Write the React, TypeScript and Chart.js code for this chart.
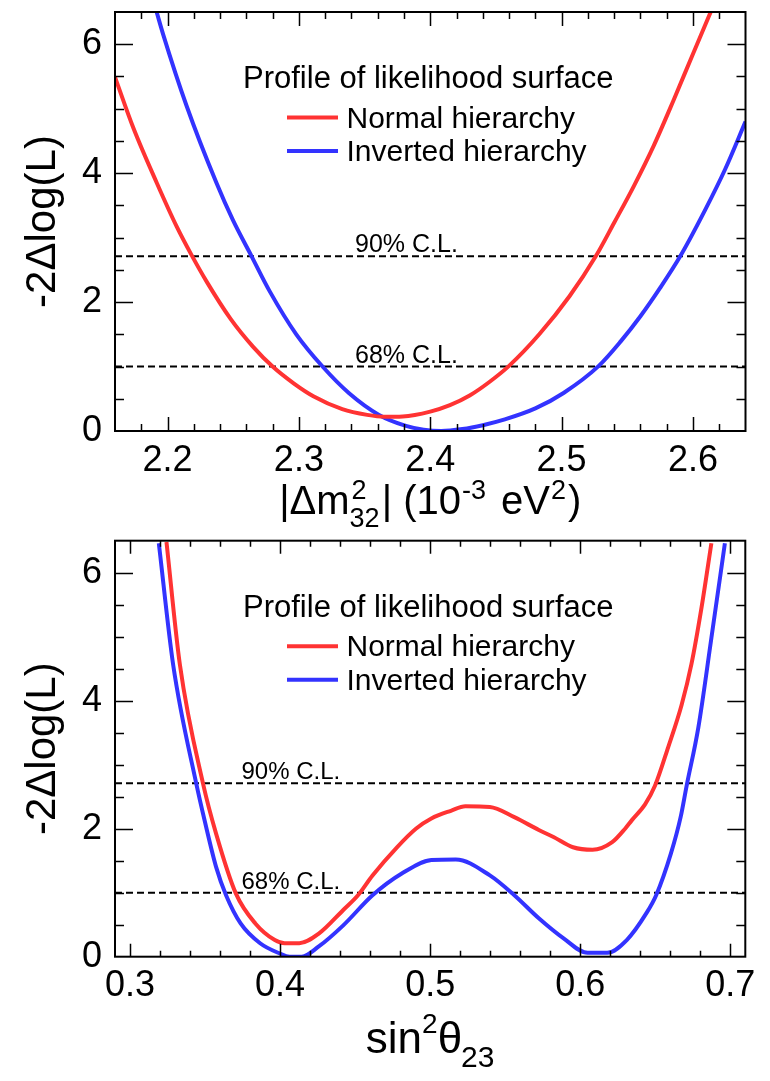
import React, { useEffect, useRef } from "react";
import { Chart, registerables } from "chart.js";

Chart.register(...registerables);

const RED = "#ff3333";
const BLUE = "#3333ff";
const FONT = "'Liberation Sans', Arial, Helvetica, sans-serif";

// ---------- top panel: |dm^2_32| ----------
const dm2NormalX = [2.16, 2.174, 2.192, 2.207, 2.218, 2.23, 2.248, 2.265, 2.28, 2.296, 2.311, 2.333, 2.352, 2.365, 2.379, 2.4, 2.415, 2.43, 2.445, 2.46, 2.483, 2.506, 2.526, 2.54, 2.555, 2.57, 2.585, 2.6, 2.6135];
const dm2NormalY = [5.49, 4.7, 3.84, 3.17, 2.74, 2.31, 1.74, 1.31, 1.0, 0.74, 0.54, 0.34, 0.25, 0.22, 0.225, 0.3, 0.4, 0.55, 0.76, 1.01, 1.5, 2.09, 2.71, 3.23, 3.8, 4.42, 5.12, 5.85, 6.5];
const dm2InvertedX = [2.1917, 2.1967, 2.2144, 2.2372, 2.2498, 2.264, 2.2777, 2.298, 2.318, 2.338, 2.361, 2.3815, 2.395, 2.4084, 2.4245, 2.44, 2.4568, 2.48, 2.5015, 2.5283, 2.545, 2.56, 2.575, 2.5903, 2.6093, 2.6245, 2.64];
const dm2InvertedY = [6.5, 6.15, 5.05, 3.85, 3.27, 2.71, 2.17, 1.5, 1.0, 0.59, 0.25, 0.08, 0.02, 0.0, 0.03, 0.09, 0.18, 0.35, 0.59, 1.01, 1.39, 1.78, 2.22, 2.71, 3.43, 4.06, 4.8];
const dm2Ticks = [2.2, 2.3, 2.4, 2.5, 2.6];

// ---------- bottom panel: sin^2 theta_23 ----------
const th23NormalX = [0.3243, 0.3332, 0.3487, 0.3574, 0.3705, 0.3835, 0.3965, 0.403, 0.4128, 0.4258, 0.4421, 0.4519, 0.4616, 0.4779, 0.4905, 0.5008, 0.5138, 0.5235, 0.5398, 0.5561, 0.5724, 0.5822, 0.5952, 0.6082, 0.6213, 0.6299, 0.6343, 0.6432, 0.6498, 0.6587, 0.6675, 0.6741, 0.6808, 0.6874];
const th23NormalY = [6.48, 4.57, 2.7, 1.92, 0.99, 0.52, 0.26, 0.21, 0.21, 0.36, 0.73, 0.96, 1.27, 1.71, 2.0, 2.16, 2.28, 2.35, 2.34, 2.18, 1.98, 1.87, 1.71, 1.67, 1.79, 2.0, 2.13, 2.38, 2.67, 3.28, 3.93, 4.57, 5.45, 6.46];
const th23InvertedX = [0.3192, 0.3287, 0.3442, 0.35, 0.3574, 0.364, 0.3737, 0.3867, 0.3998, 0.4063, 0.4144, 0.4258, 0.4421, 0.4616, 0.4811, 0.5008, 0.5171, 0.5398, 0.5561, 0.5724, 0.5887, 0.6049, 0.618, 0.631, 0.6441, 0.6506, 0.6604, 0.6669, 0.6709, 0.6787, 0.6874, 0.6964];
const th23InvertedY = [6.46, 4.57, 2.7, 2.1, 1.4, 0.96, 0.52, 0.21, 0.05, 0.0, 0.0, 0.16, 0.49, 0.96, 1.3, 1.51, 1.52, 1.27, 0.96, 0.6, 0.29, 0.06, 0.06, 0.26, 0.68, 0.96, 1.61, 2.18, 2.67, 3.58, 4.98, 6.46];
const th23Ticks = [0.3, 0.4, 0.5, 0.6, 0.7];

// ---------- shared ----------
const yTicks = [0, 2, 4, 6];
const clLevels = [2.71, 1.0];
const clLabels = ["90% C.L.", "68% C.L."];
const legendTitle = "Profile of likelihood surface";
const seriesNames = ["Normal hierarchy", "Inverted hierarchy"];
const yTitle = "-2\u0394log(L)";

type Piece = { t: string; size: number; dy?: number; dx?: number; stack?: boolean };

const dm2Title: Piece[] = [
  { t: "|\u0394m", size: 40 },
  { t: "2", size: 27, dy: -15, dx: 2, stack: true },
  { t: "32", size: 27, dy: 13, dx: 0 },
  { t: "| (10", size: 40, dx: 2 },
  { t: "-3", size: 27, dy: -15, dx: 1 },
  { t: " eV", size: 40, dx: 4 },
  { t: "2", size: 27, dy: -15, dx: 1 },
  { t: ")", size: 40, dx: 2 },
];

const th23Title: Piece[] = [
  { t: "sin", size: 44 },
  { t: "2", size: 28, dy: -20, dx: 0 },
  { t: "\u03b8", size: 44, dx: 0 },
  { t: "23", size: 30, dy: 14, dx: -1 },
];

const toPts = (xs: number[], ys: number[]) => xs.map((x, i) => ({ x, y: ys[i] }));

function drawPieces(ctx: CanvasRenderingContext2D, pieces: Piece[], cx: number, baseY: number) {
  let total = 0;
  let pending = 0;
  const widths: number[] = [];
  pieces.forEach((p) => {
    ctx.font = `${p.size}px ${FONT}`;
    widths.push(ctx.measureText(p.t).width);
  });
  pieces.forEach((p, i) => {
    const w = widths[i];
    if (p.stack) {
      pending = Math.max(pending, w + (p.dx || 0));
    } else {
      total += (p.dx || 0) + Math.max(w, pending - (p.dx || 0));
      pending = 0;
    }
  });
  let x = cx - total / 2;
  pending = 0;
  ctx.textAlign = "left";
  ctx.textBaseline = "alphabetic";
  pieces.forEach((p, i) => {
    const w = widths[i];
    ctx.font = `${p.size}px ${FONT}`;
    ctx.fillText(p.t, x + (p.dx || 0), baseY + (p.dy || 0));
    if (p.stack) {
      pending = Math.max(pending, w + (p.dx || 0));
    } else {
      x += (p.dx || 0) + Math.max(w, pending - (p.dx || 0));
      pending = 0;
    }
  });
}

type PanelOpts = {
  xMinor: number;
  xMajor: number;
  xMajorLen: number;
  xMinorLen: number;
  clLabelDx: number;
  clFont: number;
  titlePieces: Piece[];
  titleDy: number;
};

const rootDecor = {
  id: "rootDecor",
  afterDatasetsDraw(chart: any, _args: any, opts: PanelOpts) {
    const { ctx, chartArea } = chart;
    const { left, right, top, bottom } = chartArea;
    const xs = chart.scales.x;
    const ys = chart.scales.y;
    ctx.save();
    ctx.strokeStyle = "#000";
    ctx.fillStyle = "#000";
    ctx.lineWidth = 1.5;
    const xn0 = Math.ceil(xs.min / opts.xMinor - 1e-6);
    const xn1 = Math.floor(xs.max / opts.xMinor + 1e-6);
    ctx.beginPath();
    for (let n = xn0; n <= xn1; n++) {
      const v = n * opts.xMinor;
      const r = v / opts.xMajor;
      const major = Math.abs(r - Math.round(r)) < 1e-6;
      const len = major ? opts.xMajorLen : opts.xMinorLen;
      const px = Math.round(xs.getPixelForValue(v)) + 0.5;
      if (px <= left + 1 || px >= right - 1) continue;
      ctx.moveTo(px, bottom);
      ctx.lineTo(px, bottom - len);
      ctx.moveTo(px, top);
      ctx.lineTo(px, top + len);
    }
    const yn0 = Math.ceil(ys.min / 0.5 - 1e-6);
    const yn1 = Math.floor(ys.max / 0.5 + 1e-6);
    for (let n = yn0; n <= yn1; n++) {
      const v = n * 0.5;
      const major = n % 4 === 0;
      const len = major ? 18 : 9;
      const py = Math.round(ys.getPixelForValue(v)) + 0.5;
      if (py <= top + 1 || py >= bottom - 1) continue;
      ctx.moveTo(left, py);
      ctx.lineTo(left + len, py);
      ctx.moveTo(right, py);
      ctx.lineTo(right - len, py);
    }
    ctx.stroke();
    ctx.lineWidth = 2;
    ctx.strokeRect(left, top, right - left, bottom - top);

    ctx.font = `${opts.clFont}px ${FONT}`;
    ctx.textAlign = "left";
    ctx.textBaseline = "alphabetic";
    clLevels.forEach((lv, i) => {
      const py = ys.getPixelForValue(lv);
      ctx.fillText(clLabels[i], left + opts.clLabelDx, py - 4);
    });

    ctx.font = `31px ${FONT}`;
    ctx.fillText(legendTitle, left + 128, top + 76);
    ctx.font = `30px ${FONT}`;
    const cols = [RED, BLUE];
    seriesNames.forEach((name, i) => {
      const ly = top + 105.5 + i * 33.5;
      ctx.strokeStyle = cols[i];
      ctx.lineWidth = 4;
      ctx.beginPath();
      ctx.moveTo(left + 172, ly);
      ctx.lineTo(left + 223, ly);
      ctx.stroke();
      ctx.fillStyle = "#000";
      ctx.fillText(name, left + 231.5, top + 115.5 + i * 33.5);
    });

    drawPieces(ctx, opts.titlePieces, (left + right) / 2, bottom + opts.titleDy);

    ctx.save();
    ctx.translate(43, (top + bottom) / 2);
    ctx.rotate(-Math.PI / 2);
    ctx.font = `42px ${FONT}`;
    ctx.textAlign = "center";
    ctx.textBaseline = "middle";
    ctx.fillText(yTitle, 0, 0);
    ctx.restore();

    ctx.restore();
  },
};

function makeConfig(
  normal: { x: number; y: number }[],
  inverted: { x: number; y: number }[],
  xMin: number,
  xMax: number,
  xTicks: number[],
  padTop: number,
  xAxisHeight: number,
  padRight: number,
  opts: PanelOpts
): any {
  const clSets = clLevels.map((lv) => ({
    data: [
      { x: xMin, y: lv },
      { x: xMax, y: lv },
    ],
    borderColor: "#000",
    borderWidth: 2,
    borderDash: [7, 4],
    pointRadius: 0,
    fill: false,
    clip: 0,
  }));
  const curve = (label: string, data: any, color: string) => ({
    label,
    data,
    borderColor: color,
    borderWidth: 4,
    pointRadius: 0,
    fill: false,
    cubicInterpolationMode: "monotone",
    clip: 0,
  });
  return {
    type: "line",
    data: {
      datasets: [curve(seriesNames[0], normal, RED), curve(seriesNames[1], inverted, BLUE), ...clSets],
    },
    options: {
      animation: false,
      responsive: false,
      devicePixelRatio: 1,
      layout: { padding: { left: 0, right: padRight, top: padTop, bottom: 0 } },
      plugins: {
        legend: { display: false },
        tooltip: { enabled: false },
        rootDecor: opts,
      },
      scales: {
        x: {
          type: "linear",
          min: xMin,
          max: xMax,
          grid: { display: false, drawTicks: false },
          border: { display: false },
          afterBuildTicks: (s: any) => {
            s.ticks = xTicks.map((v) => ({ value: v }));
          },
          afterFit: (s: any) => {
            s.height = xAxisHeight;
            s.paddingLeft = 0;
            s.paddingRight = 0;
            s.paddingTop = 0;
            s.paddingBottom = 0;
          },
          ticks: {
            autoSkip: false,
            maxRotation: 0,
            minRotation: 0,
            padding: 8,
            color: "#000",
            font: { family: FONT, size: 36 },
            callback: (v: number) => Number(v).toFixed(1),
          },
        },
        y: {
          type: "linear",
          min: 0,
          max: 6.5,
          grid: { display: false, drawTicks: false },
          border: { display: false },
          afterBuildTicks: (s: any) => {
            s.ticks = yTicks.map((v) => ({ value: v }));
          },
          afterFit: (s: any) => {
            s.width = 115;
            s.paddingLeft = 0;
            s.paddingRight = 0;
            s.paddingTop = 0;
            s.paddingBottom = 0;
          },
          ticks: {
            autoSkip: false,
            padding: 13,
            color: "#000",
            font: { family: FONT, size: 36 },
            callback: (v: number) => String(Math.round(Number(v))),
          },
        },
      },
    },
    plugins: [rootDecor],
  };
}

export default function App() {
  const topRef = useRef<HTMLCanvasElement>(null);
  const botRef = useRef<HTMLCanvasElement>(null);

  useEffect(() => {
    document.body.style.margin = "0";
    document.body.style.background = "#fff";
    const c1 = new Chart(
      topRef.current as HTMLCanvasElement,
      makeConfig(
        toPts(dm2NormalX, dm2NormalY),
        toPts(dm2InvertedX, dm2InvertedY),
        2.16,
        2.64,
        dm2Ticks,
        12,
        99,
        24.5,
        {
          xMinor: 0.02,
          xMajor: 0.1,
          xMajorLen: 14,
          xMinorLen: 7,
          clLabelDx: 240,
          clFont: 25,
          titlePieces: dm2Title,
          titleDy: 83,
        }
      )
    );
    const c2 = new Chart(
      botRef.current as HTMLCanvasElement,
      makeConfig(
        toPts(th23NormalX, th23NormalY),
        toPts(th23InvertedX, th23InvertedY),
        0.29,
        0.71,
        th23Ticks,
        10.7,
        124.3,
        24.7,
        {
          xMinor: 0.02,
          xMajor: 0.1,
          xMajorLen: 13,
          xMinorLen: 6,
          clLabelDx: 126.5,
          clFont: 24,
          titlePieces: th23Title,
          titleDy: 96.3,
        }
      )
    );
    return () => {
      c1.destroy();
      c2.destroy();
    };
  }, []);

  return (
    <div style={{ width: 770, height: 1081, background: "#fff" }}>
      <canvas ref={topRef} width={770} height={530} style={{ display: "block" }} />
      <canvas ref={botRef} width={770} height={551} style={{ display: "block" }} />
    </div>
  );
}
